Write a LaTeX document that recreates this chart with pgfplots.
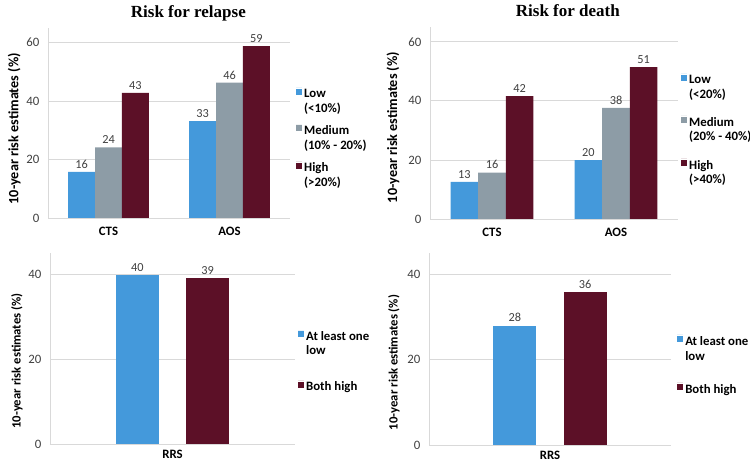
\documentclass[border=0pt]{standalone}
\usepackage{fontspec}
\setmainfont{Carlito}
\newfontfamily\titlefont{Liberation Serif}
\usepackage{pgfplots}
\pgfplotsset{compat=1.18}
\definecolor{lowblue}{HTML}{4499DB}
\definecolor{medgray}{HTML}{8D9CA6}
\definecolor{highred}{HTML}{5C1027}
\definecolor{gridgray}{HTML}{D9D9D9}
\definecolor{ticktext}{HTML}{404040}

\pgfplotsset{
  riskaxis/.style={
    scale only axis,
    anchor=south west,
    ybar,
    ymin=0,
    enlarge x limits=false,
    axis x line*=bottom, axis y line*=left,
    axis line style={draw=gridgray, line width=0.8pt, -},
    ymajorgrids, grid style={draw=gridgray, line width=0.8pt},
    major tick length=0pt,
    /pgf/number format/assume math mode=true,
    yticklabel style={font=\fontsize{12.8}{14}\selectfont, text=ticktext, xshift=-5pt},
    xticklabel style={font=\bfseries\fontsize{12.8}{14}\selectfont, text=black},
    ylabel={10-year risk estimates (\%)},
    ylabel style={font=\bfseries\fontsize{14.2}{16}\selectfont, anchor=center},
    title style={font=\titlefont\bfseries\fontsize{17}{19}\selectfont, anchor=base},
    nodes near coords={\pgfmathprintnumber[fixed,precision=0]{\pgfplotspointmeta}},
    nodes near coords style={font=\fontsize{12.3}{14}\selectfont, text=ticktext},
    legend cell align=left,
    legend style={draw=none, fill=none, inner sep=0pt, anchor=north west,
      font=\bfseries\fontsize{12.8}{14.5}\selectfont,
      cells={anchor=north west, align=left}},
    legend image code/.code={%
      \path (0pt,0pt) rectangle (6pt,0pt);
      \draw[/tikz/.cd,#1,draw=none] (0pt,-1.8pt) rectangle (6pt,-7.8pt);},
  },
}

\begin{document}
\begin{tikzpicture}
\path[use as bounding box] (0pt,0pt) rectangle (750pt,468pt);

% Risk for relapse
\begin{axis}[riskaxis,
    at={(48pt,250pt)}, width=242pt, height=190pt,
    ymax=65, ytick={0,20,40,60},
    xmin=-0.5, xmax=1.5, xtick={0,1}, xticklabels={CTS,AOS},
    xticklabel style={yshift=-6pt},
    bar width=0.223,
    title={Risk for relapse},
    title style={at={(axis description cs:0.58,1)}, yshift=4.5pt},
    ylabel style={at={(axis description cs:-0.14,0.47)}},
    legend style={at={(1.025,0.69)}, row sep=8pt},
]
\addplot[fill=lowblue, draw=none, bar shift=-0.223] coordinates {(0,15.8) (1,33.1)};
\addlegendentry{Low\\(<10\%)}
\addplot[fill=medgray, draw=none, bar shift=0] coordinates {(0,24.2) (1,46.3)};
\addlegendentry{Medium\\(10\% - 20\%)}
\addplot[fill=highred, draw=none, bar shift=0.223] coordinates {(0,42.8) (1,58.8)};
\addlegendentry{High\\(>20\%)}
\end{axis}

% Risk for death
\begin{axis}[riskaxis,
    at={(430pt,249pt)}, width=248pt, height=192pt,
    ymax=65, ytick={0,20,40,60},
    xmin=-0.5, xmax=1.5, xtick={0,1}, xticklabels={CTS,AOS},
    xticklabel style={yshift=-6pt},
    bar width=0.222,
    title={Risk for death},
    title style={at={(axis description cs:0.556,1)}, yshift=4.5pt},
    ylabel style={at={(axis description cs:-0.149,0.477)}},
    legend style={at={(1.012,0.76)}, row sep=13.5pt},
]
\addplot[fill=lowblue, draw=none, bar shift=-0.222] coordinates {(0,12.6) (1,19.9)};
\addlegendentry{Low\\(<20\%)}
\addplot[fill=medgray, draw=none, bar shift=0] coordinates {(0,15.7) (1,37.6)};
\addlegendentry{Medium\\(20\% - 40\%)}
\addplot[fill=highred, draw=none, bar shift=0.222] coordinates {(0,41.6) (1,51.4)};
\addlegendentry{High\\(>40\%)}
\end{axis}

% RRS, relapse
\begin{axis}[riskaxis,
    at={(50pt,24pt)}, width=245pt, height=191pt,
    ymax=45, ytick={0,20,40},
    xmin=-0.5, xmax=0.5, xtick={0}, xticklabels={RRS},
    xticklabel style={yshift=-3pt},
    bar width=0.176,
    ylabel style={at={(axis description cs:-0.135,0.435)}, font=\bfseries\fontsize{12.7}{14}\selectfont},
    legend style={at={(1.012,0.60)}, row sep=22pt, font=\bfseries\fontsize{12.8}{13.5}\selectfont},
]
\addplot[fill=lowblue, draw=none, bar shift=-0.143] coordinates {(0,39.8)};
\addlegendentry{At least one\\low}
\addplot[fill=highred, draw=none, bar shift=0.143] coordinates {(0,39.1)};
\addlegendentry{Both high}
\end{axis}

% RRS, death
\begin{axis}[riskaxis,
    at={(429pt,23pt)}, width=242pt, height=192pt,
    ymax=45, ytick={0,20,40},
    xmin=-0.5, xmax=0.5, xtick={0}, xticklabels={RRS},
    xticklabel style={yshift=-3pt},
    bar width=0.178,
    ylabel style={at={(axis description cs:-0.145,0.43)}, font=\bfseries\fontsize{12.7}{14}\selectfont},
    legend style={at={(1.025,0.578)}, row sep=18pt, font=\bfseries\fontsize{12.8}{15}\selectfont},
]
\addplot[fill=lowblue, draw=none, bar shift=-0.145] coordinates {(0,28.0)};
\addlegendentry{At least one\\low}
\addplot[fill=highred, draw=none, bar shift=0.145] coordinates {(0,35.9)};
\addlegendentry{Both high}
\end{axis}
\end{tikzpicture}
\end{document}
